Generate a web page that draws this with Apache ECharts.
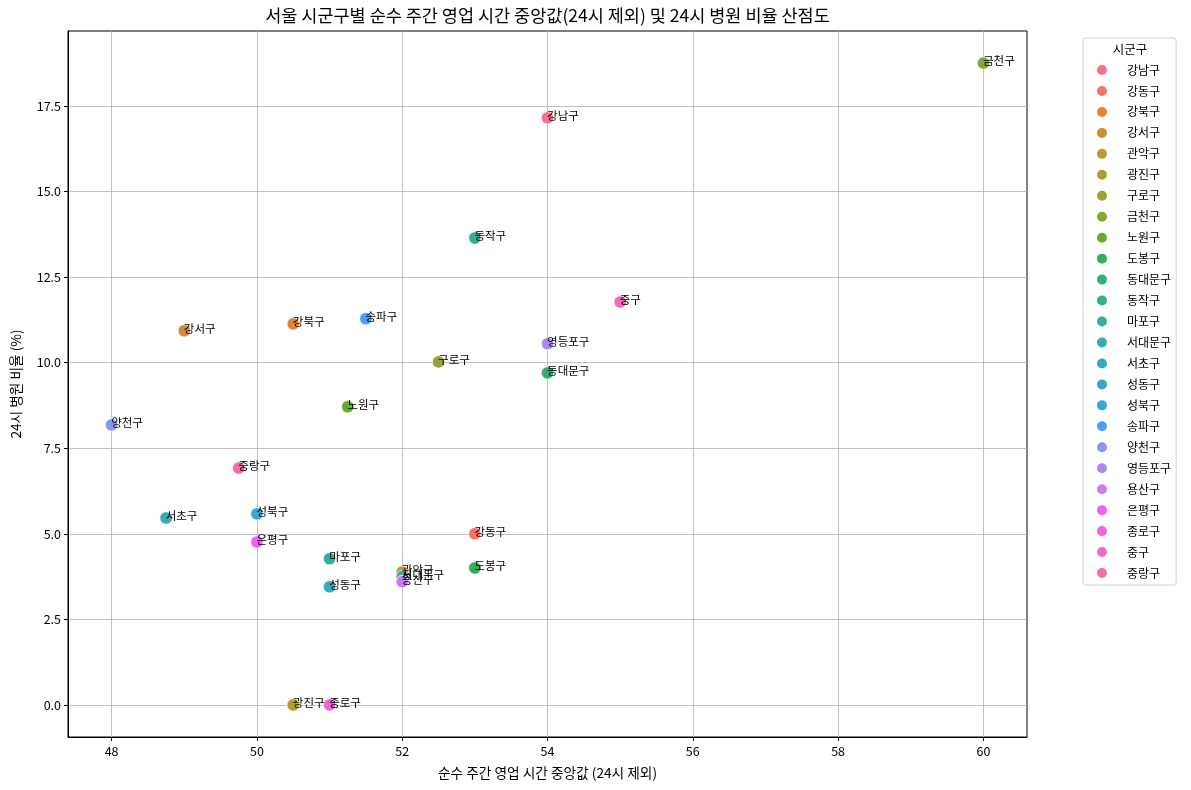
<!DOCTYPE html>
<html>
<head>
<meta charset="utf-8">
<script src="https://cdn.jsdelivr.net/npm/echarts@6/dist/echarts.min.js"></script>
<style>html,body{margin:0;padding:0;background:#fff;}#c{width:1191px;height:790px;}</style>
</head>
<body>
<div id="c"></div>
<script>
const districts = ['강남구','강동구','강북구','강서구','관악구','광진구','구로구','금천구','노원구','도봉구','동대문구','동작구','마포구','서대문구','서초구','성동구','성북구','송파구','양천구','영등포구','용산구','은평구','종로구','중구','중랑구'];
const medianHours = [54, 53, 50.5, 49, 52, 50.5, 52.5, 60, 51.25, 53, 54, 53, 51, 52, 48.75, 51, 50, 51.5, 48, 54, 52, 50, 51, 55, 49.75];
const ratio24 = [17.15, 5.0, 11.13, 10.93, 3.88, 0, 10.02, 18.75, 8.71, 4.0, 9.70, 13.64, 4.27, 3.75, 5.46, 3.45, 5.58, 11.28, 8.18, 10.55, 3.6, 4.76, 0, 11.77, 6.92];
const xTicks = [48, 50, 52, 54, 56, 58, 60];
const yTicks = [0, 2.5, 5, 7.5, 10, 12.5, 15, 17.5];

// seaborn-style husl palette
const M = [[3.2406, -1.5372, -0.4986], [-0.9689, 1.8758, 0.0415], [0.0557, -0.2040, 1.0570]];
const refU = 0.19784, refV = 0.46834, kappa = 903.3, eps = 0.008856;
function maxChroma(L, H) {
  const hrad = H / 360 * Math.PI * 2;
  const sub1 = Math.pow(L + 16, 3) / 1560896;
  const sub2 = sub1 > eps ? sub1 : L / kappa;
  let best = Infinity;
  for (let c = 0; c < 3; c++) {
    const [m1, m2, m3] = M[c];
    for (let t = 0; t < 2; t++) {
      const top = (0.99915 * m1 + 1.05122 * m2 + 1.14460 * m3) * sub2;
      const rbottom = 0.86330 * m3 - 0.17266 * m2;
      const lbottom = 0.12949 * m3 - 0.38848 * m1;
      const bottom = (rbottom * Math.sin(hrad) + lbottom * Math.cos(hrad)) * sub2;
      const C = L * (top - 1.05122 * t) / (bottom + 0.17266 * Math.sin(hrad) * t);
      if (C > 0 && C < best) best = C;
    }
  }
  return best;
}
function huslToHex(H, S, L) {
  let C;
  if (L > 99.9999999) { L = 100; C = 0; } else if (L < 1e-8) { L = 0; C = 0; }
  else C = maxChroma(L, H) / 100 * S;
  const hr = H / 180 * Math.PI;
  const U = Math.cos(hr) * C, V = Math.sin(hr) * C;
  let X = 0, Y = 0, Z = 0;
  if (L > 0) {
    Y = L <= 8 ? L / kappa : Math.pow((L + 16) / 116, 3);
    const vu = U / (13 * L) + refU, vv = V / (13 * L) + refV;
    X = 9 * Y * vu / (4 * vv);
    Z = (9 * Y - 15 * vv * Y - vv * X) / (3 * vv);
  }
  const xyz = [X, Y, Z];
  const out = M.map(row => {
    let v = row[0] * xyz[0] + row[1] * xyz[1] + row[2] * xyz[2];
    v = v <= 0.0031308 ? 12.92 * v : 1.055 * Math.pow(v, 1 / 2.4) - 0.055;
    v = Math.min(1, Math.max(0, v));
    return Math.round(v * 255).toString(16).padStart(2, '0');
  });
  return '#' + out.join('');
}
const n = districts.length;
const palette = [];
for (let i = 0; i < n; i++) {
  const h = ((i / n + 0.01) % 1) * 359;
  palette.push(huslToHex(h, 0.9 * 99, 0.65 * 99));
}

const FONT = '"Noto Sans CJK KR", "Noto Sans", sans-serif';
const SYM = 12.5;
const series = districts.map((d, i) => ({
  type: 'scatter',
  name: d,
  data: [[medianHours[i], ratio24[i]]],
  symbol: 'circle',
  symbolSize: SYM,
  itemStyle: { color: palette[i], borderColor: '#ffffff', borderWidth: 0.8, opacity: 1 },
  label: {
    show: true,
    formatter: d,
    position: [SYM / 2, SYM / 2 + 4],
    align: 'left',
    verticalAlign: 'bottom',
    color: '#000',
    fontFamily: FONT,
    fontSize: 11.5
  },
  labelLayout: { hideOverlap: false },
  emphasis: { disabled: true },
  z: 3
}));

const chart = echarts.init(document.getElementById('c'), null, { renderer: 'canvas' });
chart.setOption({
  animation: false,
  backgroundColor: '#fff',
  textStyle: { fontFamily: FONT },
  grid: { left: 68, right: 164, top: 31, bottom: 53, containLabel: false, outerBoundsMode: 'none', show: true, borderColor: '#000', borderWidth: 1, backgroundColor: 'transparent' },
  xAxis: {
    type: 'value',
    min: 47.4, max: 60.6,
    name: '순수 주간 영업 시간 중앙값 (24시 제외)',
    nameLocation: 'middle', nameGap: 29,
    nameTextStyle: { color: '#000', fontSize: 13.7, fontFamily: FONT },
    axisLine: { show: true, onZero: false, lineStyle: { color: '#000', width: 1 } },
    axisTick: { show: true, length: 4, lineStyle: { color: '#000' }, customValues: xTicks },
    axisLabel: { color: '#000', fontSize: 12.5, margin: 8, customValues: xTicks, formatter: v => String(v) },
    splitLine: { show: true, lineStyle: { color: '#b0b0b0', width: 0.8 } }
  },
  yAxis: {
    type: 'value',
    min: -0.9375, max: 19.6875,
    name: '24시 병원 비율 (%)',
    nameLocation: 'middle', nameGap: 45, nameRotate: 90,
    nameTextStyle: { color: '#000', fontSize: 13.7, fontFamily: FONT },
    axisLine: { show: true, onZero: false, lineStyle: { color: '#000', width: 1 } },
    axisTick: { show: true, length: 4, lineStyle: { color: '#000' }, customValues: yTicks },
    axisLabel: { color: '#000', fontSize: 12.5, margin: 7, customValues: yTicks, formatter: v => v.toFixed(1) },
    splitLine: { show: true, lineStyle: { color: '#b0b0b0', width: 0.8 } }
  },
  legend: {
    orient: 'vertical',
    left: 1083, top: 38,
    padding: [25, 5, 5, 12],
    itemWidth: 12, itemHeight: 12,
    itemGap: 6.96,
    icon: 'circle',
    borderColor: '#d5d5d5', borderWidth: 1, borderRadius: 3,
    backgroundColor: '#fff',
    textStyle: { color: '#000', fontSize: 12, fontFamily: FONT, lineHeight: 14, padding: [0, 0, 0, 14] },
    data: districts,
    selectedMode: false
  },
  graphic: [
    { type: 'text', x: 547.5, y: 15, style: { text: '서울 시군구별 순수 주간 영업 시간 중앙값(24시 제외) 및 24시 병원 비율 산점도', textAlign: 'center', textVerticalAlign: 'middle', fill: '#000', font: '17.5px "Noto Sans CJK KR", sans-serif' }, z: 10 },
    { type: 'text', x: 1130, y: 49, style: { text: '시군구', textAlign: 'center', textVerticalAlign: 'middle', fill: '#000', font: '12.5px "Noto Sans CJK KR", sans-serif' }, z: 10 }
  ],
  series: series
});
</script>
</body>
</html>
